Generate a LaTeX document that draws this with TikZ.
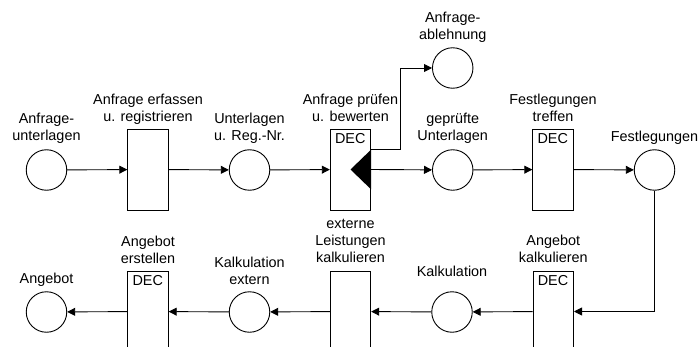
\documentclass[tikz,border=0pt]{standalone}
\usepackage{fontspec}
\setmainfont{Liberation Sans}
\usetikzlibrary{arrows.meta,calc}
\begin{document}
\begin{tikzpicture}[x=1pt,y=-1pt,
  every node/.style={font=\fontsize{14.4}{17}\selectfont},
  state/.style={draw,circle,line width=0.9pt,minimum size=40.5pt,inner sep=0pt},
  func/.style={draw,rectangle,line width=0.9pt,minimum width=40.5pt,minimum height=81pt,inner sep=0pt},
  lbl/.style={anchor=south,inner sep=0pt,text depth=0pt,align=center},
  dec/.style={anchor=base west,inner sep=0pt},
  arr/.style={line width=0.9pt,-{Triangle[length=8pt,width=8pt]}}]
\useasboundingbox (0,0) rectangle (700,347);
\clip (0,0) rectangle (700,347);

% upper chain
\node[state] (c1) at (46.5,170) {};
\node[func]  (f1) at (148,169.5) {};
\node[state] (c2) at (249.5,170) {};
\node[func]  (f2) at (350.5,169.5) {};
\node[state] (c3) at (452.7,68) {};
\node[state] (c4) at (452.7,170) {};
\node[func]  (f3) at (553,169.5) {};
\node[state] (c5) at (654.5,170) {};

% lower chain
\node[func]  (f4) at (553.3,311.5) {};
\node[state] (c6) at (452,312) {};
\node[func]  (f5) at (350.5,311.5) {};
\node[state] (c7) at (249.5,312) {};
\node[func]  (f6) at (148,311.5) {};
\node[state] (c8) at (46.5,312) {};

% decision markers
\node[dec] (d2) at ($(f2.north west)+(5,15)$) {DEC};
\node[dec] (d3) at ($(f3.north west)+(5,15)$) {DEC};
\node[dec] (d4) at ($(f4.north west)+(5,15)$) {DEC};
\node[dec] (d6) at ($(f6.north west)+(5,15)$) {DEC};

% branch triangle
\fill (f2.center) -- ($(f2.east)+(0,-20)$) -- ($(f2.east)+(0,20)$) -- cycle;

% labels
\node[lbl,yshift=9pt] (l1) at (c1.north) {Anfrage-\\unterlagen};
\node[lbl,yshift=7pt] (l2) at (f1.north) {Anfrage erfassen\\u. registrieren};
\node[lbl,yshift=9pt] (l3) at (c2.north) {Unterlagen\\u. Reg.-Nr.};
\node[lbl,yshift=7pt] (l4) at (f2.north) {Anfrage prüfen\\u. bewerten};
\node[lbl,yshift=8pt] (l5) at (c3.north) {Anfrage-\\ablehnung};
\node[lbl,yshift=9pt] (l6) at (c4.north) {geprüfte\\Unterlagen};
\node[lbl,yshift=7pt] (l7) at (f3.north) {Festlegungen\\treffen};
\node[lbl,yshift=8pt] (l8) at (c5.north) {Festlegungen};
\node[lbl,yshift=8pt] (l9) at (f4.north) {Angebot\\kalkulieren};
\node[lbl,yshift=15pt] (l10) at (c6.north) {Kalkulation};
\node[lbl,yshift=8pt] (l11) at (f5.north) {externe\\Leistungen\\kalkulieren};
\node[lbl,yshift=7pt] (l12) at (c7.north) {Kalkulation\\extern};
\node[lbl,yshift=7pt] (l13) at (f6.north) {Angebot\\erstellen};
\node[lbl,yshift=8pt] (l14) at (c8.north) {Angebot};

% connectors
\coordinate (brk) at (400.7,68);
\draw[arr] (c1) -- (f1);
\draw[arr] (f1) -- (c2);
\draw[arr] (c2) -- (f2);
\draw[arr] (f2.east) -- (c4);
\draw[arr] ($(f2.east)+(0,-20)$) -| (brk) -- (c3);
\draw[arr] (c4) -- (f3);
\draw[arr] (f3) -- (c5);
\draw[arr] (c5.south) |- (f4.east);
\draw[arr] (f4) -- (c6);
\draw[arr] (c6) -- (f5);
\draw[arr] (f5) -- (c7);
\draw[arr] (c7) -- (f6);
\draw[arr] (f6) -- (c8);
\end{tikzpicture}
\end{document}
